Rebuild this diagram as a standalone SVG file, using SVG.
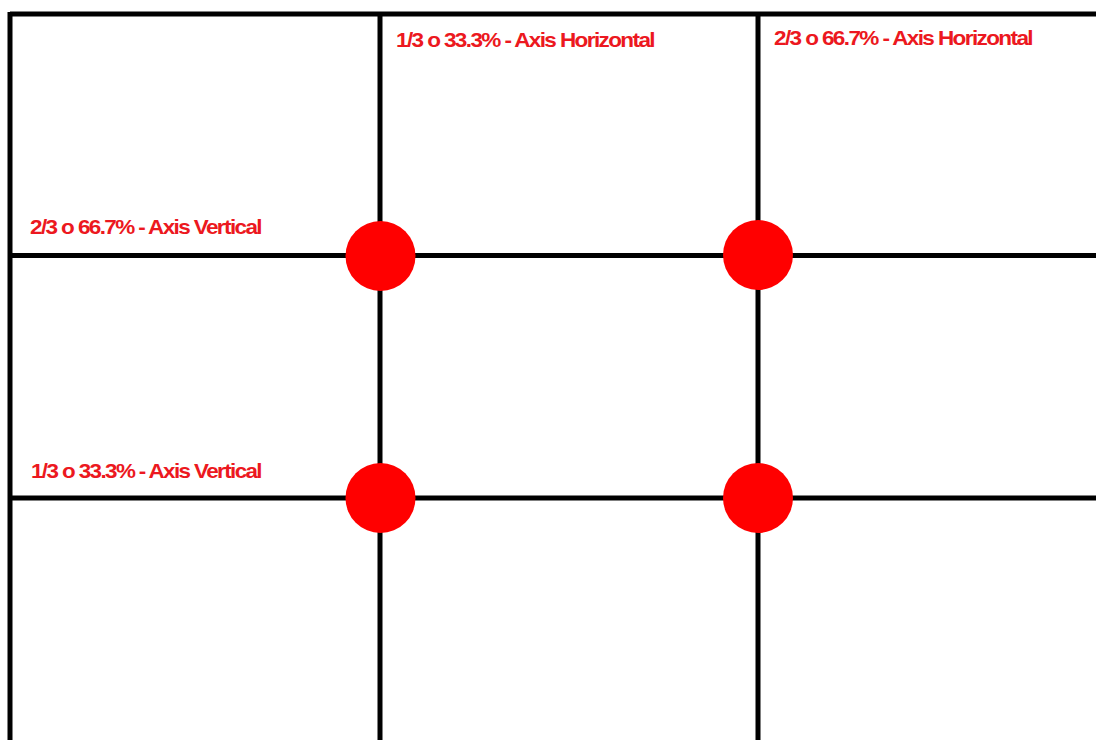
<svg xmlns="http://www.w3.org/2000/svg" width="1096" height="740" viewBox="0 0 1096 740">
<style>
.ln{stroke:#000;stroke-width:5;fill:none}
.dot{fill:#ff0000}
.lbl{font-family:"Liberation Sans",Arial,sans-serif;font-weight:bold;font-size:21px;fill:#ec1820;letter-spacing:-1.5px}
</style>
<rect width="1096" height="740" fill="#fff"/>
<g id="grid">
<line class="ln" x1="10" y1="14" x2="1096" y2="14"/>
<line class="ln" x1="10" y1="12" x2="10" y2="740"/>
<line class="ln" x1="380" y1="14" x2="380" y2="740"/>
<line class="ln" x1="758" y1="14" x2="758" y2="740"/>
<line class="ln" x1="10" y1="255.5" x2="1096" y2="255.5"/>
<line class="ln" x1="10" y1="498" x2="1096" y2="498"/>
</g>
<g id="points">
<circle class="dot" cx="380.5" cy="256" r="35"/>
<circle class="dot" cx="758" cy="255" r="35"/>
<circle class="dot" cx="380.5" cy="498" r="35"/>
<circle class="dot" cx="758" cy="498" r="35"/>
</g>
<g id="labels">
<text class="lbl" x="396" y="47" textLength="258" lengthAdjust="spacingAndGlyphs">1/3 o 33.3% - Axis Horizontal</text>
<text class="lbl" x="774" y="45" textLength="258" lengthAdjust="spacingAndGlyphs">2/3 o 66.7% - Axis Horizontal</text>
<text class="lbl" x="30" y="234" textLength="231" lengthAdjust="spacingAndGlyphs">2/3 o 66.7% - Axis Vertical</text>
<text class="lbl" x="31" y="478" textLength="230" lengthAdjust="spacingAndGlyphs">1/3 o 33.3% - Axis Vertical</text>
</g>
</svg>
